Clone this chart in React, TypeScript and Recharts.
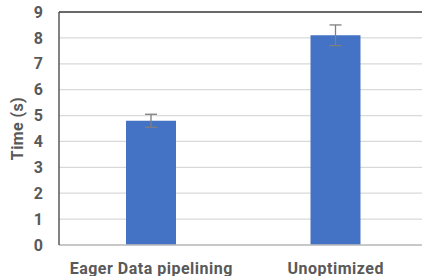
import React from "react";
import { BarChart, Bar, XAxis, YAxis, CartesianGrid, ErrorBar, ReferenceLine } from "recharts";

const categories = ["Eager Data pipelining", "Unoptimized"];
const times = [4.8, 8.1];
const errors = [0.25, 0.4];
const yTicks = [0, 1, 2, 3, 4, 5, 6, 7, 8, 9];

const data = categories.map((name, i) => ({ name, time: times[i], err: errors[i] }));

const FONT = "Roboto, 'DejaVu Sans', sans-serif";
const TXT = "#595959";

export default function App() {
  return (
    <div style={{ position: "absolute", left: 0, top: 0, width: 422, height: 276, overflow: "hidden", background: "#fff" }}>
      <BarChart
        width={440}
        height={276}
        data={data}
        margin={{ top: 12, right: 12, bottom: 0, left: 0 }}
        barCategoryGap="0%"
      >
        <CartesianGrid vertical={false} stroke="#d9d9d9" strokeWidth={1.3} />
        <XAxis
          dataKey="name"
          height={31}
          tickLine={false}
          tickSize={0}
          tickMargin={18}
          axisLine={{ stroke: "#bfbfbf", strokeWidth: 1.3 }}
          tick={{ fill: TXT, fontSize: 16, fontWeight: 700, fontFamily: FONT, letterSpacing: 0.5 }}
          interval={0}
        />
        <YAxis
          width={59}
          domain={[0, 9]}
          ticks={yTicks}
          tickLine={false}
          tickSize={0}
          tickMargin={16}
          axisLine={{ stroke: "#404040", strokeWidth: 1.3 }}
          tick={{ fill: TXT, fontSize: 16, fontWeight: 700, fontFamily: FONT }}
          label={{
            value: "Time (s)",
            angle: -90,
            position: "insideLeft",
            offset: 17,
            style: { fill: TXT, fontSize: 16, fontWeight: 700, fontFamily: FONT, textAnchor: "middle", letterSpacing: 0.4 },
          }}
        />
        <ReferenceLine y={9} stroke="#404040" strokeWidth={1.5} />
        <Bar dataKey="time" fill="#4472C4" barSize={50} isAnimationActive={false}>
          <ErrorBar dataKey="err" width={6} stroke="#7f7f7f" strokeWidth={1.3} direction="y" />
        </Bar>
      </BarChart>
    </div>
  );
}
